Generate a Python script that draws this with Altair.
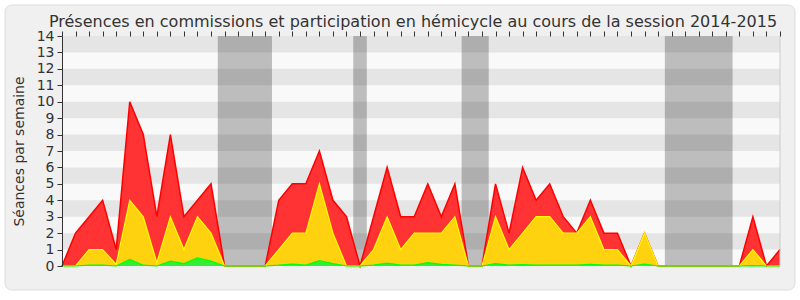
import altair as alt
import pandas as pd

# Weekly stacked totals (cumulative heights), week index 0..53
red_total = [0, 2, 3, 4, 1, 10, 8, 3, 8, 3, 4, 5, 0, 0, 0, 0, 4, 5, 5, 7,
             4, 3, 0, 3, 6, 3, 3, 5, 3, 5, 0, 0, 5, 2, 6, 4, 5, 3, 2, 4,
             2, 2, 0, 2, 0, 0, 0, 0, 0, 0, 0, 3, 0, 1]
yellow_total = [0, 0, 1, 1, 0.1, 4, 3, 0.2, 3, 1, 3, 2, 0, 0, 0, 0, 1, 2, 2, 5,
                2, 0, 0, 1, 3, 1, 2, 2, 2, 3, 0, 0, 3, 1, 2, 3, 3, 2, 2, 3,
                1, 1, 0, 2, 0, 0, 0, 0, 0, 0, 0, 1, 0, 0]
green_total = [0, 0, 0.05, 0.05, 0, 0.4, 0.05, 0, 0.3, 0.15, 0.5, 0.3, 0, 0, 0, 0, 0.05, 0.12, 0.05, 0.32,
               0.15, 0, 0, 0.05, 0.18, 0.05, 0.05, 0.2, 0.1, 0.05, 0, 0, 0.15, 0.05, 0.08, 0.05, 0.05, 0.05, 0.05, 0.1,
               0.05, 0.05, 0, 0.12, 0, 0, 0, 0, 0, 0, 0, 0.02, 0, 0]
weeks = list(range(len(red_total)))

month_labels = ["Oct", "Nov", "Déc", "Jan 15", "Fév", "Mar", "Avr", "Mai", "Juin", "Juil", "Août", "Sept"]
month_weeks = [1, 6, 11, 15, 18, 22, 27, 31, 36, 40, 45, 50]

vac_start = [11.5, 21.5, 29.5, 44.5]
vac_end = [15.5, 22.5, 31.5, 49.5]

stripe_lo = [1, 3, 5, 7, 9, 11, 13]

title_text = "Présences en commissions et participation en hémicycle au cours de la session 2014-2015"

W, H = 718, 230
FONT = "DejaVu Sans"
TXT = "#333333"

df = pd.DataFrame({"w": weeks, "red": red_total, "yellow": yellow_total, "green": green_total})
vac = pd.DataFrame({"w": vac_start, "w2": vac_end})
stripes = pd.DataFrame({"red": stripe_lo, "red2": [v + 1 for v in stripe_lo]})

label_expr = "".join(f"datum.value=={w}?'{l}':" for w, l in zip(month_weeks, month_labels)) + "''"

xscale = alt.Scale(domain=[0, len(weeks) - 1], nice=False, zero=False)
yscale = alt.Scale(domain=[0, 14], nice=False)

x_axis = alt.Axis(
    values=weeks, labelExpr=label_expr, title=None, grid=False, zindex=2,
    tickSize=5, tickColor=TXT, domainColor=TXT, labelColor=TXT,
    labelFont=FONT, labelFontSize=14, labelPadding=1, labelOverlap=False,
    labelFlush=False)
y_axis = alt.Axis(
    values=list(range(15)), title="Séances par semaine", grid=False, zindex=2,
    tickSize=5, tickColor=TXT, domainColor=TXT, labelColor=TXT,
    labelFont=FONT, labelFontSize=14, labelPadding=3,
    titleFont=FONT, titleFontSize=14, titleFontWeight="normal",
    titleColor=TXT, titlePadding=10)

X = alt.X("w:Q", scale=xscale, axis=x_axis)
Y = alt.Y("red:Q", scale=yscale, axis=y_axis)

one = pd.DataFrame({"t": [title_text]})

panel = alt.Chart(one).mark_rect(
    fill="#f0f0f0", stroke="#dcdcdc", strokeWidth=1, cornerRadius=7
).encode(x=alt.value(-57), x2=alt.value(733), y=alt.value(-31), y2=alt.value(254))

plotbg = alt.Chart(one).mark_rect(fill="#f9f9f9").encode(
    x=alt.value(0), x2=alt.value(W), y=alt.value(0), y2=alt.value(H))

title_layer = alt.Chart(one).mark_text(
    font=FONT, fontSize=16, color=TXT, align="center", baseline="alphabetic"
).encode(text="t:N", x=alt.value(351), y=alt.value(-9))

stripe_layer = alt.Chart(stripes).mark_rect(fill="#e5e5e5").encode(
    y=Y, y2="red2:Q", x=alt.value(0), x2=alt.value(W))

vac_layer = alt.Chart(vac).mark_rect(fill="#000000", opacity=0.24).encode(
    x=X, x2="w2:Q", y=alt.value(0), y2=alt.value(H))

base = alt.Chart(df)

red_area = base.mark_area(color="#ff3333", opacity=1,
                          line={"color": "#ff0000", "strokeWidth": 1.5}).encode(x=X, y=Y)

yellow_area = base.mark_area(color="#ffd20f", opacity=1,
                             line={"color": "#ffff00", "strokeWidth": 1.2}).encode(
    x=X, y=alt.Y("yellow:Q", scale=yscale, axis=y_axis))

green_area = base.mark_area(color="#33ee33", opacity=1,
                            line={"color": "#00ff00", "strokeWidth": 1.2}).encode(
    x=X, y=alt.Y("green:Q", scale=yscale, axis=y_axis))

top_axis = base.mark_point(opacity=0).encode(
    x=alt.X("w:Q", scale=xscale, axis=alt.Axis(
        orient="top", values=weeks, labels=False, domain=False, title=None, zindex=2,
        tickSize=2, tickColor=TXT, grid=False)),
    y=alt.value(0))

right_edge = alt.Chart(one).mark_rule(color="#cccccc").encode(
    x=alt.value(W), y=alt.value(0), y2=alt.value(H))

chart = alt.layer(
    panel, plotbg, title_layer, stripe_layer, vac_layer, red_area, yellow_area, green_area,
    top_axis, right_edge
).resolve_scale(x="shared", y="shared").properties(
    width=W, height=H,
    autosize=alt.AutoSizeParams(type="none"),
    padding={"left": 62, "top": 36, "right": 20, "bottom": 34},
    background="#ffffff",
).configure_view(stroke=None)

chart.save("out.html", embed_options={"renderer": "svg", "actions": False})
